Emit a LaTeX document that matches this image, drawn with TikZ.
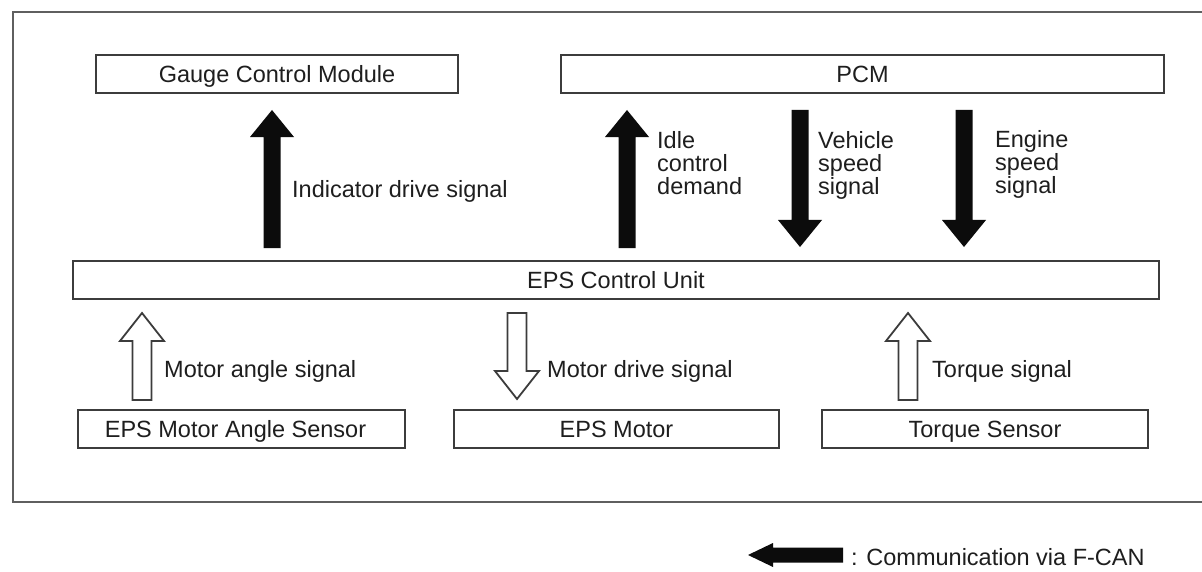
\documentclass[tikz,border=0pt]{standalone}
\usepackage{fontspec}
\setmainfont{Liberation Sans}
\usetikzlibrary{calc}
\definecolor{boxc}{RGB}{60,60,60}
\definecolor{txt}{RGB}{30,30,30}
\definecolor{framec}{RGB}{95,95,95}
\definecolor{arrc}{RGB}{12,12,12}
\tikzset{
  box/.style={draw=boxc, line width=1.8pt, minimum height=38pt, inner sep=0pt,
    text height=16.8pt, text depth=0pt, font=\fontsize{23.5}{23}\selectfont, text=txt},
  lbl/.style={anchor=base west, inner sep=0pt, font=\fontsize{23.5}{23}\selectfont, text=txt},
  mlbl/.style={anchor=north west, inner sep=0pt, align=left, font=\fontsize{23.5}{23}\selectfont, text=txt},
  blockarrow/.style n args={5}{to path={
    ($(\tikztostart)!#1!90:(\tikztotarget)$) --
    ($(\tikztotarget)!#2!-#3:(\tikztostart)$) --
    ($(\tikztotarget)!#4!-#5:(\tikztostart)$) --
    (\tikztotarget) --
    ($(\tikztotarget)!#4!#5:(\tikztostart)$) --
    ($(\tikztotarget)!#2!#3:(\tikztostart)$) --
    ($(\tikztostart)!#1!-90:(\tikztotarget)$) -- cycle}},
  can/.style={fill=arrc, draw=none, blockarrow={8.5pt}{28.31pt}{17.47}{34.83pt}{39.17}},
  hollow/.style={fill=white, draw=boxc, line width=1.8pt, line join=miter,
    blockarrow={9.5pt}{29.57pt}{18.74}{35.61pt}{38.16}},
  legendarrow/.style={fill=arrc, draw=none, blockarrow={7.5pt}{26.10pt}{16.70}{27.73pt}{25.64}}
}
\begin{document}
\begin{tikzpicture}[x=1pt,y=-1pt]
\useasboundingbox[fill=white] (0,0) rectangle (1202,572);
\draw[framec, line width=1.8pt] (13,12) rectangle (1212,502);

% boxes
\node[box, minimum width=362pt] (gcm) at (277,74) {Gauge Control Module};
\node[box, minimum width=603pt] (pcm) at (862.5,74) {PCM};
\node[box, minimum width=1086pt] (ecu) at (616,280) {EPS Control Unit};
\node[box, minimum width=327pt] (mas) at (241.5,429) {\hspace*{-12pt}EPS Motor Angle Sensor};
\node[box, minimum width=325pt] (mot) at (616.5,429) {EPS Motor};
\node[box, minimum width=326pt] (trq) at (985,429) {Torque Sensor};

% arrow end points
\coordinate (indS) at (272,248);  \coordinate (indT) at (272,110);
\coordinate (idlS) at (627,248);  \coordinate (idlT) at (627,110);
\coordinate (vehS) at (800,110);  \coordinate (vehT) at (800,247);
\coordinate (engS) at (964,110);  \coordinate (engT) at (964,247);
\coordinate (angS) at (142,400);  \coordinate (angT) at (142,313);
\coordinate (drvS) at (517,313);  \coordinate (drvT) at (517,399);
\coordinate (trqS) at (908,400);  \coordinate (trqT) at (908,313);
\coordinate (legS) at (843,555);  \coordinate (legT) at (748,555);

% F-CAN arrows
\path[can] (indS) to (indT);
\path[can] (idlS) to (idlT);
\path[can] (vehS) to (vehT);
\path[can] (engS) to (engT);

% hollow arrows
\path[hollow] (angS) to (angT);
\path[hollow] (drvS) to (drvT);
\path[hollow] (trqS) to (trqT);

% legend arrow
\path[legendarrow] (legS) to (legT);

% labels
\node[lbl] (lind) at (292,198) {Indicator drive signal};
\node[mlbl] (lidl) at (657,131.5) {Idle\\control\\demand};
\node[mlbl] (lveh) at (818,131.5) {Vehicle\\speed\\signal};
\node[mlbl] (leng) at (995,130.5) {Engine\\speed\\signal};
\node[lbl] (lang) at (164,377) {Motor angle signal};
\node[lbl] (ldrv) at (547,377) {Motor drive signal};
\node[lbl] (ltrq) at (932,377) {Torque signal};
\node[lbl] (lleg) at (851,565) {: Communication via F-CAN};
\end{tikzpicture}
\end{document}
